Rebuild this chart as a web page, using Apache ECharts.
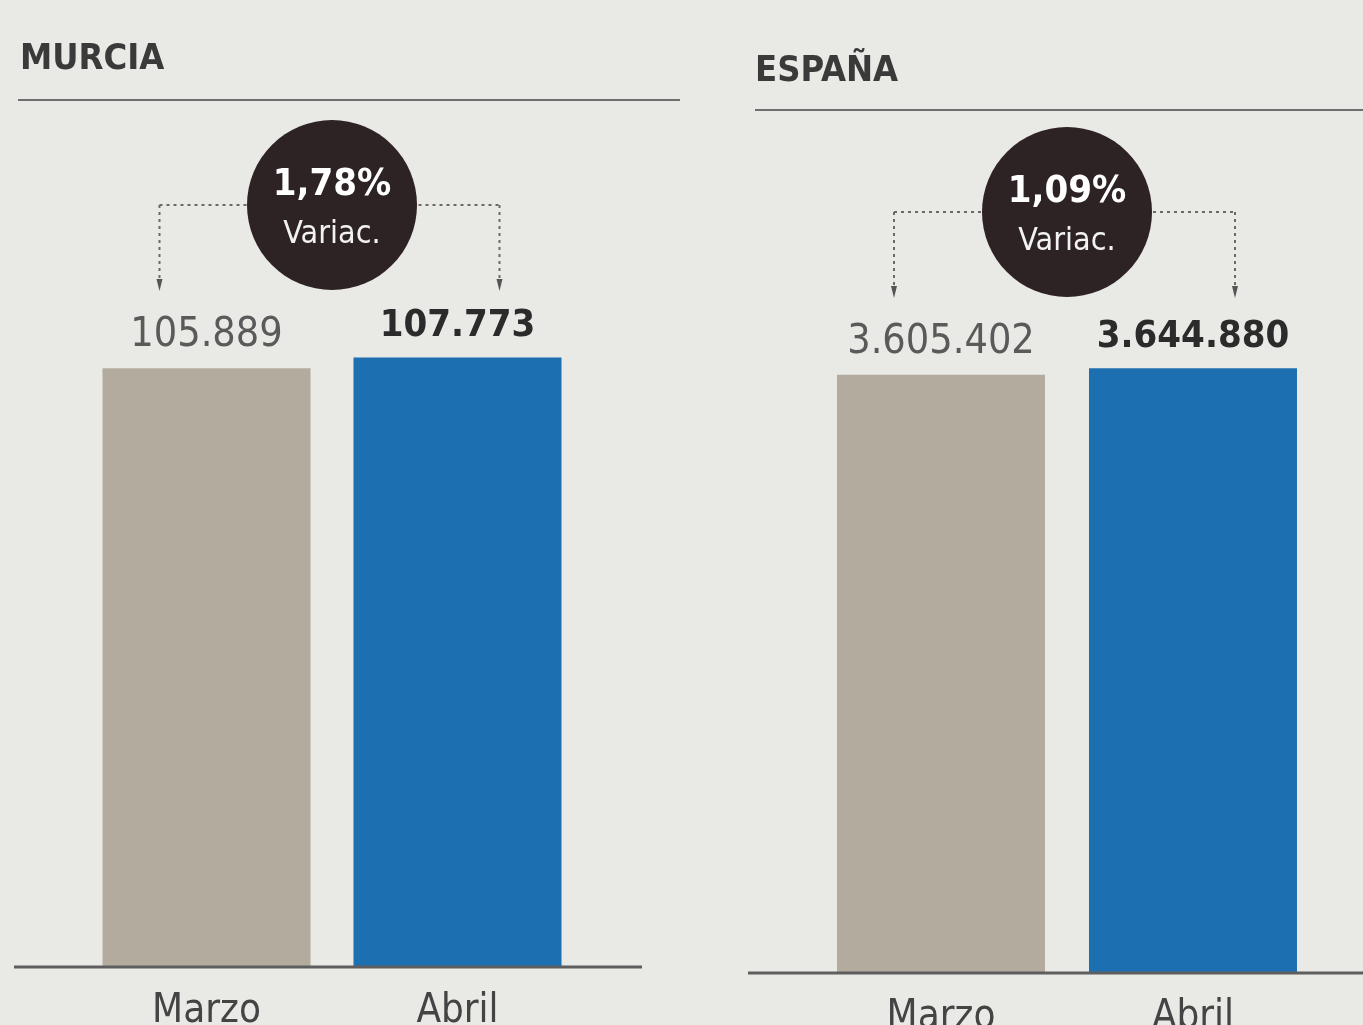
<!DOCTYPE html>
<html><head><meta charset="utf-8">
<script src="https://cdn.jsdelivr.net/npm/echarts@6/dist/echarts.min.js"></script>
<style>html,body{margin:0;padding:0;background:#e9e9e5;}#c{width:1363px;height:1025px;}</style>
</head><body><div id="c"></div>
<script>
const categories = ['Marzo', 'Abril'];
const regions = ['MURCIA', 'ESPAÑA'];
const murciaValues = [105889, 107773];
const espanaValues = [3605402, 3644880];
const variations = ['1,78%', '1,09%'];
const variationLabel = 'Variac.';

const FONT = "'Liberation Sans Narrow', 'DejaVu Sans Condensed', 'Open Sans', sans-serif";
const fmt = v => String(v).replace(/\B(?=(\d{3})+(?!\d))/g, '.');
const colors = ['#b3ac9e', '#1c6fb1'];

const chart = echarts.init(document.getElementById('c'), null, {renderer: 'canvas'});

function makeSeries(values, idx) {
  return {
    type: 'bar', xAxisIndex: idx, yAxisIndex: idx, barWidth: 208,
    data: values.map((v, i) => ({
      value: v,
      itemStyle: {color: colors[i]},
      label: {
        show: true, position: 'top', distance: 12,
        formatter: p => fmt(p.value),
        fontFamily: FONT, fontSize: i === 1 ? 38 : 41,
        fontWeight: i === 1 ? 'bold' : 'normal',
        color: i === 1 ? '#2b2b2b' : '#5a5a5a'
      }
    }))
  };
}

const grids = [
  {left: 81, right: 780, top: 345, bottom: 1025 - 967, outerBoundsMode: 'none', containLabel: false},
  {left: 815, right: 44, top: 359, bottom: 1025 - 973, outerBoundsMode: 'none', containLabel: false}
];
const maxes = [110000, 3700000];

const option = {
  backgroundColor: '#e9e9e5',
  animation: false,
  grid: grids,
  xAxis: grids.map((g, i) => ({
    type: 'category', gridIndex: i, data: categories,
    axisLine: {show: false}, axisTick: {show: false},
    axisLabel: {margin: 25, fontFamily: FONT, fontSize: 40, color: '#444'}
  })),
  yAxis: grids.map((g, i) => ({
    type: 'value', gridIndex: i, min: 0, max: maxes[i], show: false, splitLine: {show: false}
  })),
  series: [makeSeries(murciaValues, 0), makeSeries(espanaValues, 1)],
  graphic: []
};
chart.setOption(option);

// Annotations derived from the chart's scales
const titlePos = [[20, 60], [755, 72]];
const ruleY = [100, 110];
const ruleX = [[18, 680], [755, 1363]];
const baseX = [[14, 642], [748, 1363]];
const circleY = [205, 212];
const graphic = [];
[0, 1].forEach(g => {
  const p0 = chart.convertToPixel({gridIndex: g}, [0, 0]);
  const p1 = chart.convertToPixel({gridIndex: g}, [1, 0]);
  const baseY = p0[1];
  graphic.push({type: 'text', x: titlePos[g][0], y: titlePos[g][1],
    style: {text: regions[g], font: "bold 36px " + FONT, fill: '#3a3a3a', verticalAlign: 'middle'}});
  graphic.push({type: 'line', shape: {x1: ruleX[g][0], y1: ruleY[g], x2: ruleX[g][1], y2: ruleY[g]},
    style: {stroke: '#6e6e6e', lineWidth: 2}});
  graphic.push({type: 'line', shape: {x1: baseX[g][0], y1: baseY, x2: baseX[g][1], y2: baseY},
    style: {stroke: '#5e5e5e', lineWidth: 3}, z: 10});
  const xl = p0[0] - 47, xr = p1[0] + 42, cy = circleY[g];
  const cx = (p0[0] + p1[0]) / 2;
  const dash = {stroke: '#6a6a6a', lineWidth: 2, lineDash: [3, 4]};
  graphic.push({type: 'line', shape: {x1: xl, y1: cy, x2: xr, y2: cy}, style: dash});
  graphic.push({type: 'line', shape: {x1: xl, y1: cy, x2: xl, y2: cy + 82}, style: dash});
  graphic.push({type: 'line', shape: {x1: xr, y1: cy, x2: xr, y2: cy + 82}, style: dash});
  graphic.push({type: 'polygon', shape: {points: [[xl - 3, cy + 74], [xl + 3, cy + 74], [xl, cy + 86]]}, style: {fill: '#555'}});
  graphic.push({type: 'polygon', shape: {points: [[xr - 3, cy + 74], [xr + 3, cy + 74], [xr, cy + 86]]}, style: {fill: '#555'}});
  graphic.push({type: 'circle', shape: {cx: cx, cy: cy, r: 85}, style: {fill: '#2d2224'}, z: 5});
  graphic.push({type: 'text', x: cx, y: cy - 20, z: 6,
    style: {text: variations[g], font: "bold 38px " + FONT, fill: '#ffffff', align: 'center', verticalAlign: 'middle'}});
  graphic.push({type: 'text', x: cx, y: cy + 30, z: 6,
    style: {text: variationLabel, font: "32px " + FONT, fill: '#f2f2f2', align: 'center', verticalAlign: 'middle'}});
});
chart.setOption({graphic: graphic});
</script></body></html>
